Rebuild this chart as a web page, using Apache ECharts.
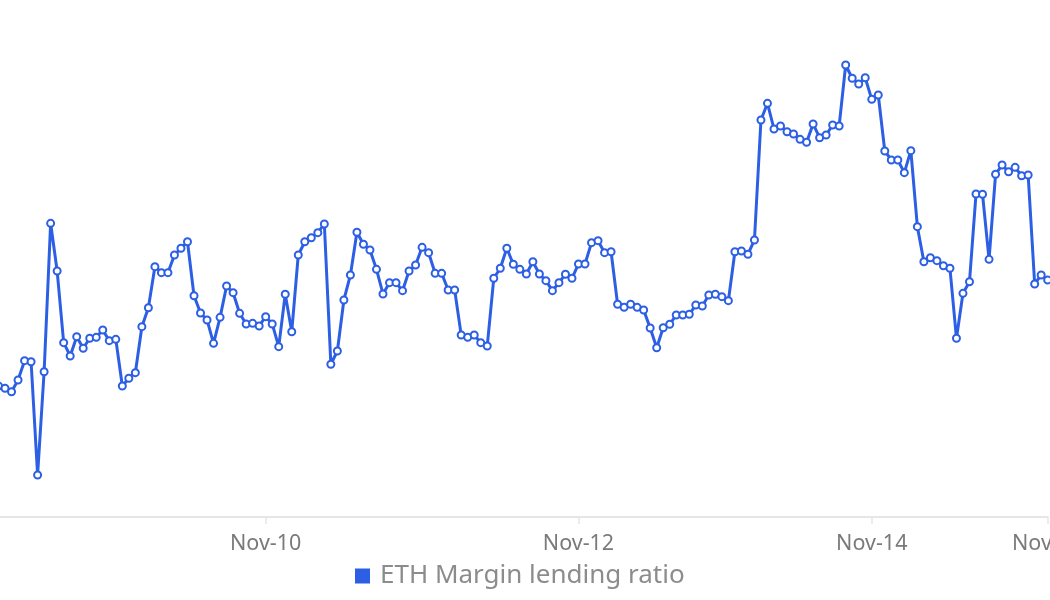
<!DOCTYPE html>
<html>
<head>
<meta charset="utf-8">
<script src="https://cdn.jsdelivr.net/npm/echarts@6/dist/echarts.min.js"></script>
<style>html,body{margin:0;padding:0;background:#fff;}#c{width:1050px;height:600px;}</style>
</head>
<body>
<div id="c"></div>
<script>
const seriesName = 'ETH Margin lending ratio';
const ratio = [
16.38,16.09,15.66,17.13,19.54,19.41,5.25,18.16,36.71,30.75,
21.79,20.13,22.54,21.09,22.34,22.46,23.38,22.04,22.21,16.38,
17.34,18.04,23.79,26.16,31.29,30.54,30.54,32.75,33.59,34.41,
27.66,25.50,24.63,21.71,24.96,28.88,28.04,25.46,24.13,24.21,
23.88,25.04,24.13,21.29,27.84,23.16,32.75,34.41,34.91,35.54,
36.63,19.09,20.75,27.13,30.25,35.59,34.09,33.38,30.96,27.88,
29.29,29.29,28.29,30.75,31.50,33.71,33.04,30.46,30.46,28.38,
28.38,22.75,22.46,22.75,21.79,21.38,29.84,31.09,33.59,31.59,
30.96,30.38,31.91,30.38,29.54,28.29,29.29,30.34,29.84,31.63,
31.63,34.29,34.54,33.04,33.16,26.59,26.21,26.59,26.21,25.88,
23.63,21.16,23.66,24.09,25.25,25.25,25.34,26.50,26.38,27.75,
27.84,27.54,27.04,33.16,33.25,32.84,34.63,49.63,51.71,48.50,
48.88,48.16,47.88,47.21,46.84,49.13,47.41,47.75,49.00,48.88,
56.50,54.84,54.13,54.91,52.21,52.75,45.75,44.63,44.63,43.04,
45.79,36.29,31.91,32.41,32.04,31.41,31.09,22.34,27.96,29.41,
40.38,40.34,32.21,42.84,44.00,43.16,43.71,42.66,42.75,29.13,
30.25,29.63
];
const tickIndex = [41, 89, 134, 161];
const tickLabels = ['Nov-10', 'Nov-12', 'Nov-14', 'Nov-15'];
const categories = ratio.map((_, i) => {
  const k = tickIndex.indexOf(i);
  return k >= 0 ? tickLabels[k] : '';
});

const chart = echarts.init(document.getElementById('c'), null, {renderer: 'canvas'});
const showAt = (i) => tickIndex.indexOf(i) >= 0;
chart.setOption({
  animation: false,
  backgroundColor: '#ffffff',
  textStyle: {fontFamily: 'Noto Sans'},
  grid: {left: -1.5, right: 2.3, top: 37, bottom: 83, containLabel: false, outerBoundsMode: 'none'},
  legend: {
    data: [seriesName],
    left: 350, top: 558,
    icon: 'rect', itemWidth: 13, itemHeight: 13, itemGap: 10,
    textStyle: {color: '#8c8c8c', fontSize: 26, fontFamily: 'Noto Sans', padding: [0, 0, 0, 6]}
  },
  xAxis: {
    type: 'category',
    data: categories,
    boundaryGap: false,
    axisLine: {lineStyle: {color: '#e6e6e6', width: 2}},
    axisTick: {show: true, interval: (i) => showAt(i), length: 7, lineStyle: {color: '#e6e6e6', width: 1.5}},
    axisLabel: {interval: (i) => showAt(i), color: '#7a7a7a', fontSize: 21.5, margin: 16, fontFamily: 'Noto Sans'}
  },
  yAxis: {type: 'value', min: 0, max: 60, show: false},
  series: [{
    name: seriesName,
    type: 'line',
    data: ratio,
    symbol: 'emptyCircle',
    symbolSize: 7,
    showAllSymbol: true,
    color: '#2c5fe3',
    lineStyle: {width: 3, color: '#2c5fe3'},
    itemStyle: {color: '#2c5fe3', borderWidth: 1.8, borderColor: '#2c5fe3'}
  }]
});
</script>
</body>
</html>
